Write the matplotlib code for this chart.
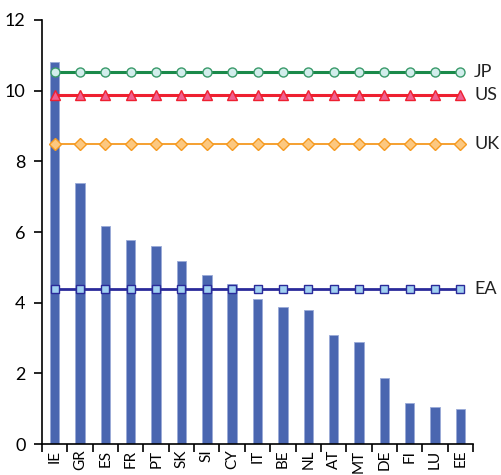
import numpy as np
import matplotlib.pyplot as plt

plt.rcParams['font.family'] = ['Lato', 'DejaVu Sans']

countries = ['IE', 'GR', 'ES', 'FR', 'PT', 'SK', 'SI', 'CY', 'IT',
             'BE', 'NL', 'AT', 'MT', 'DE', 'FI', 'LU', 'EE']
values = [10.8, 7.38, 6.17, 5.77, 5.6, 5.18, 4.79, 4.53, 4.1,
          3.87, 3.79, 3.09, 2.9, 1.87, 1.17, 1.06, 0.98]
jp = 10.54
us = 9.88
uk = 8.5
ea = 4.4

fig = plt.figure(figsize=(5.01, 4.75), dpi=100)
ax = fig.add_axes([0.084, 0.065, 0.86, 0.893])

x = np.arange(len(countries))
ax.bar(x, values, width=0.37, color='#4a66b0', edgecolor='#9aaad8', linewidth=0.6, zorder=2)

series = [
    ('JP', jp, '#1a8a4a', 'o', '#d2eeec', '#3a9a6a', 2.2, 6.5),
    ('US', us, '#ee2030', '^', '#f06090', '#ee2030', 2.2, 6.5),
    ('UK', uk, '#f5a030', 'D', '#fcc880', '#f59a20', 1.4, 6),
    ('EA', ea, '#2a2a9a', 's', '#a0d0f0', '#2a2a9a', 2.0, 5.5),
]
for name, val, col, mk, face, edge, lw, ms in series:
    ax.plot(x, [val] * len(x), color=col, lw=lw, marker=mk, markersize=ms,
            markerfacecolor=face, markeredgecolor=edge, markeredgewidth=1.0, zorder=3)
    ax.text(len(x) - 0.45, val, name, fontsize=13, va='center', ha='left',
            color='#222222', clip_on=False)

ax.set_xlim(-0.5, len(x) - 0.5)
ax.set_ylim(0, 12)
ax.set_yticks(range(0, 13, 2))
ax.set_xticks(np.arange(-0.5, len(x), 1.0))
ax.set_xticklabels([])
ax.set_xticks(x, minor=True)
ax.set_xticklabels(countries, minor=True, rotation=90, fontsize=11, va='top')
ax.tick_params(axis='x', which='minor', length=0, pad=4)
ax.tick_params(axis='x', which='major', length=6, width=1.2, direction='out')
ax.tick_params(axis='y', length=6, width=1.2, labelsize=13, pad=6)

for s in ['top', 'right']:
    ax.spines[s].set_visible(False)
for s in ['left', 'bottom']:
    ax.spines[s].set_linewidth(1.2)

fig.savefig('out.png', dpi=100)
